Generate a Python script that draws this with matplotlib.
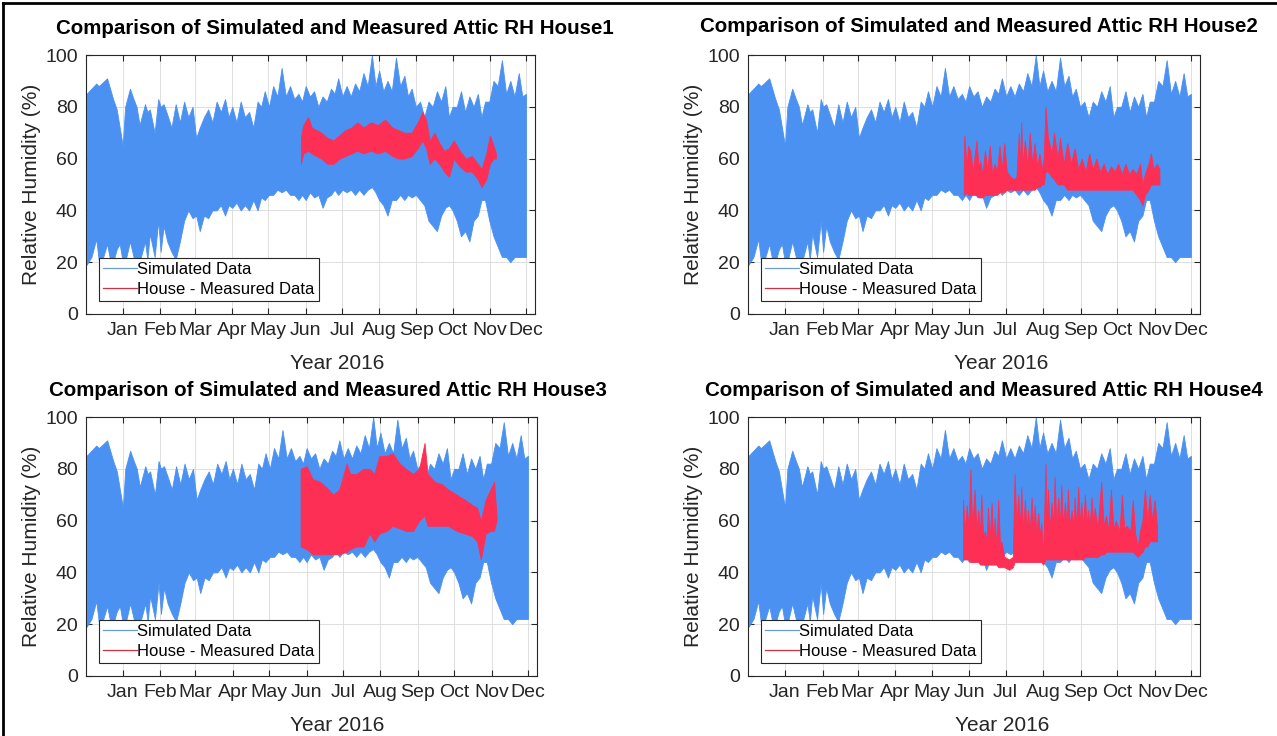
import numpy as np
import matplotlib
matplotlib.use("Agg")
import matplotlib.pyplot as plt
from matplotlib.lines import Line2D

plt.rcParams['font.family'] = ['Liberation Sans', 'DejaVu Sans']

# x axis is day of year 2016 (0 = Jan 1)
month_days = [0, 31, 60, 91, 121, 152, 182, 213, 244, 274, 305, 335]
month_names = ['Jan', 'Feb', 'Mar', 'Apr', 'May', 'Jun', 'Jul', 'Aug', 'Sep', 'Oct', 'Nov', 'Dec']

# simulated attic RH (same model run in every panel): lower / upper envelope
sim_day = [-30, -26, -22, -20, -17.5, -13, -10.5, -8, -5, -2.5, 0, 2, 6, 9, 11.5, 14, 18.5, 20.5,
           22.5, 26.5, 29.5, 31.5, 34, 37, 40.5, 44, 47.5, 51, 54.5, 58, 61, 64, 67.5, 71, 74.5,
           78, 81.5, 85, 88, 91, 94.5, 98, 101.5, 105, 108.5, 112, 115, 118, 121.5, 125, 128.5,
           132, 135.5, 139, 142.5, 146, 149, 152, 155.5, 159, 162.5, 166, 169.5, 173, 176, 179,
           182.5, 186, 189.5, 193, 196.5, 200, 203.5, 207, 210, 213, 216.5, 220, 223.5, 227,
           230.5, 234, 237, 240, 243.5, 247, 250.5, 254, 257.5, 261, 264.5, 268, 271, 274,
           277.5, 281, 284.5, 288, 291.5, 295, 298, 301, 304.5, 308, 311.5, 315, 318.5, 322,
           325.5, 329, 332, 335]
sim_high = [85, 87, 89, 88, 89, 91, 87, 83, 79, 72, 65, 80, 87, 83, 80, 73, 81, 78,
            79, 70, 83, 80, 81, 77, 72, 81, 74, 82, 76, 80, 68, 72, 76, 79, 74,
            82, 78, 83, 76, 80, 74, 82, 76, 78, 72, 82, 80, 86, 80, 88, 84,
            95, 84, 88, 83, 85, 82, 88, 84, 86, 80, 84, 82, 87, 85, 91,
            84, 88, 84, 89, 86, 93, 88, 100, 88, 94, 86, 90, 86, 99,
            88, 92, 84, 87, 80, 82, 76, 82, 80, 86, 82, 88, 76, 80,
            80, 86, 78, 84, 80, 85, 76, 82, 82, 90, 88, 98, 85, 90,
            84, 93, 84, 85]
sim_low = [19, 22, 29, 21, 20, 27, 21, 20, 25, 27, 20, 20, 28, 22, 20, 20, 28, 21,
           31, 22, 36, 24, 34, 28, 24, 21, 28, 36, 40, 37, 38, 32, 38, 37, 40,
           40, 42, 38, 42, 41, 43, 40, 42, 40, 44, 40, 45, 44, 46, 46, 48,
           47, 48, 46, 46, 44, 46, 44, 47, 45, 46, 41, 45, 46, 48, 46,
           48, 47, 48, 46, 48, 46, 48, 49, 47, 44, 42, 38, 44, 44,
           46, 44, 46, 45, 46, 44, 42, 36, 34, 32, 38, 41, 42, 40,
           36, 30, 32, 28, 36, 38, 44, 44, 36, 30, 26, 22, 22, 20,
           22, 22, 22, 22]

# measured attic RH, House 1
h1_day = [148, 150, 154, 157, 161, 165, 170, 175, 180, 185, 190, 195, 200, 206, 212, 218, 224, 229,
          234, 240, 245, 249, 252, 255, 259, 263, 267, 271, 275, 280, 285, 290, 295, 298, 302,
          305, 308, 310]
h1_low = [58, 62, 63, 62, 61, 60, 58, 58, 60, 61, 62, 63, 62, 63, 62, 63, 61, 60,
          60, 61, 64, 67, 64, 58, 60, 58, 55, 53, 60, 57, 55, 55, 52, 49, 52,
          58, 60, 60]
h1_high = [68, 73, 76, 72, 71, 70, 68, 67, 69, 71, 72, 74, 72, 74, 73, 75, 72, 71,
           70, 70, 74, 78, 75, 67, 70, 66, 63, 64, 67, 63, 60, 61, 58, 56, 62,
           69, 65, 62]

# measured attic RH, House 2
h2_day = [147.5, 148, 150, 151, 153, 155, 158, 160, 161, 163, 165, 167, 169, 171, 173, 175, 177,
          179, 181, 183, 186, 189, 191, 193, 194, 195, 196, 198, 200, 202, 204, 206, 208, 210,
          212, 213.5, 215, 217, 220, 222, 225, 227, 230, 233, 236, 239, 242, 245, 248, 251,
          254, 257, 260, 263, 266, 269, 272, 275, 278, 281, 284, 287, 290, 293, 295, 297,
          300, 302, 304, 307, 309]
h2_low = [46, 46, 47, 46, 46, 46, 46, 45, 45, 45, 46, 46, 46, 46, 46, 46, 47,
          47, 47, 48, 48, 48, 48, 48, 48, 48, 48, 48, 48, 48, 48, 48, 49, 49,
          50, 50, 55, 55, 53, 52, 50, 50, 50, 48, 48, 48, 48, 48, 48, 48,
          48, 48, 48, 48, 48, 48, 48, 48, 48, 48, 48, 48, 46, 44, 42, 46,
          48, 50, 50, 50, 50]
h2_high = [54, 69, 56, 65, 63, 55, 67, 56, 59, 54, 63, 56, 65, 54, 58, 55, 65,
           56, 66, 55, 53, 52, 53, 70, 56, 74, 58, 67, 57, 70, 58, 66, 57, 62,
           56, 60, 80, 68, 62, 70, 60, 68, 58, 66, 58, 64, 56, 60, 55, 62,
           56, 60, 55, 58, 54, 57, 55, 58, 54, 58, 54, 56, 54, 58, 50, 54,
           58, 62, 56, 58, 56]

# measured attic RH, House 3
h3_day = [147, 152, 157, 163, 168, 174, 179, 185, 188, 193, 199, 204, 208, 212, 218, 223, 229,
          234, 240, 245, 249.5, 252, 258, 264, 269, 276, 283, 289, 293, 296, 300, 304, 307, 309]
h3_low = [50, 49, 47, 47, 47, 47, 47, 48, 49, 50, 50, 55, 52, 55, 56, 58, 57,
          56, 56, 60, 62, 58, 58, 58, 58, 56, 55, 54, 52, 45, 55, 56, 56, 60]
h3_high = [80, 81, 76, 75, 73, 70, 72, 82, 78, 78, 80, 80, 78, 85, 85, 86, 82,
           80, 78, 80, 90, 78, 75, 74, 72, 70, 68, 66, 65, 60, 68, 72, 75, 62]

# measured attic RH, House 4
h4_day = [147, 148.5, 150, 151.5, 153, 154.5, 156.5, 158, 159.5, 161, 162, 163.5, 165, 166.5,
          167.5, 169, 170.5, 172, 173, 174.5, 176, 177.5, 178.5, 181, 185, 188, 189.5, 191,
          192.5, 194, 195, 196.5, 198, 199.5, 200.5, 202, 203.5, 205, 206, 207.5, 209, 210.5,
          211.5, 213, 215, 216, 217, 218.5, 220, 221.5, 222.5, 224, 225.5, 227, 228, 229.5,
          231, 232.5, 233.5, 235, 236.5, 238, 239, 240.5, 242, 243.5, 244.5, 246, 247.5, 249,
          250, 251.5, 253, 254.5, 255.5, 258, 261, 263, 265, 267, 269, 271, 273, 276, 278,
          280, 282, 285, 287, 289, 291, 293, 295, 297, 299, 301, 303, 305, 307]
h4_low = [45, 45, 45, 45, 44, 44, 44, 44, 44, 43, 43, 43, 43, 43,
          43, 43, 43, 43, 43, 43, 42, 42, 42, 42, 41, 42, 44, 44,
          44, 44, 44, 44, 44, 44, 44, 44, 44, 44, 44, 44, 44, 44,
          44, 43, 45, 45, 45, 45, 45, 45, 45, 45, 45, 45, 45, 45,
          45, 45, 45, 45, 45, 45, 45, 45, 45, 45, 45, 45, 46, 46,
          46, 46, 46, 46, 46, 46, 47, 47, 48, 48, 48, 48, 48, 48, 48,
          48, 48, 48, 48, 47, 46, 47, 48, 50, 50, 52, 52, 52, 52]
h4_high = [68, 56, 66, 57, 80, 58, 72, 56, 64, 55, 70, 54, 56, 52,
           65, 53, 67, 52, 61, 50, 68, 50, 52, 46, 45, 46, 78, 58,
           70, 57, 73, 56, 68, 56, 64, 56, 69, 56, 66, 55, 63, 54,
           59, 46, 82, 58, 72, 57, 67, 58, 77, 58, 69, 58, 74, 58,
           67, 58, 72, 58, 64, 58, 69, 58, 73, 58, 67, 58, 70, 58,
           64, 58, 69, 58, 65, 57, 75, 58, 62, 56, 72, 57, 60, 56, 70,
           57, 58, 56, 68, 55, 50, 56, 60, 72, 60, 70, 60, 68, 58]

houses = [
    ('House1', h1_day, h1_low, h1_high),
    ('House2', h2_day, h2_low, h2_high),
    ('House3', h3_day, h3_low, h3_high),
    ('House4', h4_day, h4_low, h4_high),
]

W, H = 1277, 736
sim_color = '#4b91f1'
meas_color = '#fd2f55'

# axes boxes in pixels: left, top, right, bottom
boxes = [(86, 55, 535, 314), (748, 55, 1200, 314),
         (86, 417, 537, 676), (748, 417, 1200, 676)]
title_pos = [(335, 28), (979, 26), (328, 391), (984, 390)]
xlabel_x = [0.559, 0.560, 0.558, 0.562]

fig = plt.figure(figsize=(W / 100, H / 100), dpi=100)

for i, (name, d, lo, hi) in enumerate(houses):
    l, t, r, b = boxes[i]
    ax = fig.add_axes([l / W, 1 - b / H, (r - l) / W, (b - t) / H])

    ax.fill_between(sim_day, sim_low, sim_high, color=sim_color, lw=0.6, zorder=2)
    ax.fill_between(d, lo, hi, color=meas_color, lw=0.6, zorder=3)

    ax.set_xlim(-30.5, 342.5)
    ax.set_ylim(0, 100)
    ax.set_xticks(month_days)
    ax.set_xticklabels(month_names)
    ax.set_yticks([0, 20, 40, 60, 80, 100])
    ax.grid(True, color='#dedede', lw=0.7, zorder=0)
    ax.set_axisbelow(True)
    ax.tick_params(direction='in', length=4, width=0.8, top=True, right=True,
                   labelsize=14, colors='#262626', pad=6)
    for sp in ax.spines.values():
        sp.set_color('#262626')
        sp.set_linewidth(0.8)

    ax.set_ylabel('Relative Humidity (%)', fontsize=15, color='#262626')
    ax.yaxis.set_label_coords(-45 / (r - l), 0.5)
    ax.set_xlabel('Year 2016', fontsize=15, color='#262626')
    ax.xaxis.set_label_coords(xlabel_x[i], -40 / (b - t))

    handles = [Line2D([], [], color='#6a9fd0', lw=0.9),
               Line2D([], [], color='#d0303f', lw=0.9)]
    leg = ax.legend(handles, ['Simulated Data', 'House - Measured Data'],
                    loc='lower left', bbox_to_anchor=(13 / (r - l), 13 / (b - t)),
                    borderaxespad=0, fontsize=12, handlelength=2.0, handletextpad=0.05,
                    borderpad=0.25, labelspacing=0.3, fancybox=False, framealpha=1)
    leg.get_frame().set_edgecolor('#262626')
    leg.get_frame().set_linewidth(0.8)
    leg.set_zorder(5)

    tx, ty = title_pos[i]
    fig.text(tx / W, 1 - ty / H, 'Comparison of Simulated and Measured Attic RH ' + name,
             ha='center', va='center', fontsize=14.8, fontweight='bold', color='black')

# outer frame on the left and top edges
fig.add_artist(Line2D([3 / W, 3 / W], [0, 1 - 3 / H], transform=fig.transFigure,
                      color='black', lw=2))
fig.add_artist(Line2D([3 / W, 1], [1 - 3 / H, 1 - 3 / H], transform=fig.transFigure,
                      color='black', lw=2))

fig.savefig('out.png', dpi=100)
